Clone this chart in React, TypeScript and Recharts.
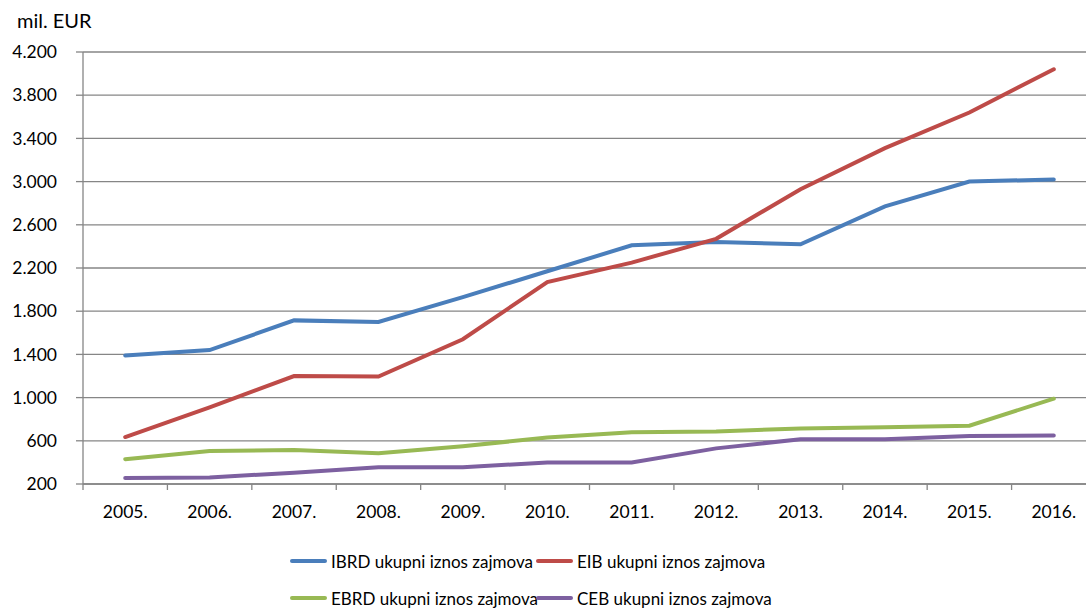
import React from 'react';
import { LineChart, Line, XAxis, YAxis, CartesianGrid, Legend } from 'recharts';

const years = ['2005.', '2006.', '2007.', '2008.', '2009.', '2010.', '2011.', '2012.', '2013.', '2014.', '2015.', '2016.'];
const ibrd = [1390, 1440, 1715, 1700, 1930, 2170, 2410, 2440, 2420, 2770, 3000, 3020];
const eib = [635, 910, 1200, 1195, 1540, 2070, 2250, 2470, 2930, 3310, 3640, 4040];
const ebrd = [430, 505, 515, 485, 550, 630, 680, 685, 715, 725, 740, 990];
const ceb = [255, 260, 305, 355, 355, 400, 400, 530, 615, 615, 645, 650];
const yTicks = [200, 600, 1000, 1400, 1800, 2200, 2600, 3000, 3400, 3800, 4200];

const seriesInfo = [
    { key: 'ibrd', name: 'IBRD ukupni iznos zajmova', color: '#4A7EBB' },
    { key: 'eib', name: 'EIB ukupni iznos zajmova', color: '#BE4B48' },
    { key: 'ebrd', name: 'EBRD ukupni iznos zajmova', color: '#98B954' },
    { key: 'ceb', name: 'CEB ukupni iznos zajmova', color: '#7D60A0' },
];

const data = years.map((year, i) => ({
    year,
    ibrd: ibrd[i],
    eib: eib[i],
    ebrd: ebrd[i],
    ceb: ceb[i],
}));

const FONT = 'Lato, "Open Sans", sans-serif';
const GRID = '#868686';

const formatThousands = (v: number) => {
    const s = String(v);
    return s.length > 3 ? s.slice(0, -3) + '.' + s.slice(-3) : s;
};

const YearTick = (props: any) => {
    const { x, y, payload, index, width, visibleTicksCount } = props;
    const band = width / visibleTicksCount;
    const left = x - band / 2;
    return (
        <g>
            <line x1={left} y1={y} x2={left} y2={y + 6} stroke={GRID} strokeWidth={1.3} />
            {index === visibleTicksCount - 1 && (
                <line x1={x + band / 2} y1={y} x2={x + band / 2} y2={y + 6} stroke={GRID} strokeWidth={1.3} />
            )}
            <text x={x} y={y + 34} textAnchor="middle" fill="#000" fontSize={17.5} fontFamily={FONT}>
                {payload.value}
            </text>
        </g>
    );
};

const LegendBox = () => {
    const cols = [290, 536];
    const rows = [37, 74];
    return (
        <div style={{ position: 'relative', height: 84, fontFamily: FONT, fontSize: 17 }}>
            {seriesInfo.map((s, i) => (
                <div
                    key={s.key}
                    style={{
                        position: 'absolute',
                        left: cols[i % 2],
                        top: rows[Math.floor(i / 2)] - 12,
                        height: 24,
                        display: 'flex',
                        alignItems: 'center',
                        whiteSpace: 'nowrap',
                        color: '#000',
                    }}
                >
                    <span style={{ display: 'inline-block', width: 37, height: 4, borderRadius: 2, background: s.color, marginRight: 4 }} />
                    {s.name}
                </div>
            ))}
        </div>
    );
};

export default function App() {
    return (
        <div style={{ position: 'absolute', left: 0, top: 0, width: 1086, height: 608, overflow: 'hidden', background: '#fff' }}>
            <div style={{ position: 'absolute', left: 17, top: 8, fontFamily: FONT, fontSize: 20, color: '#000' }}>
                mil. EUR
            </div>
            <LineChart width={1100} height={608} data={data} margin={{ top: 52, right: 4, left: 0, bottom: 0 }}>
                <CartesianGrid vertical={false} stroke={GRID} strokeWidth={1.3} />
                <XAxis
                    dataKey="year"
                    scale="band"
                    height={40}
                    axisLine={{ stroke: GRID, strokeWidth: 1.3 }}
                    tickLine={false}
                    tickSize={0}
                    tickMargin={0}
                    interval={0}
                    tick={<YearTick />}
                />
                <YAxis
                    width={83}
                    domain={[200, 4200]}
                    ticks={yTicks}
                    interval={0}
                    tickFormatter={formatThousands}
                    axisLine={{ stroke: GRID, strokeWidth: 1.3 }}
                    tickLine={{ stroke: GRID, strokeWidth: 1.3 }}
                    tickSize={7}
                    tickMargin={19}
                    tick={{ fill: '#000', fontSize: 17.5, fontFamily: FONT }}
                />
                <Legend verticalAlign="bottom" content={<LegendBox />} />
                {seriesInfo.map((s) => (
                    <Line
                        key={s.key}
                        dataKey={s.key}
                        name={s.name}
                        type="linear"
                        stroke={s.color}
                        strokeWidth={4}
                        dot={false}
                        activeDot={false}
                        strokeLinecap="round"
                        isAnimationActive={false}
                    />
                ))}
            </LineChart>
        </div>
    );
}
